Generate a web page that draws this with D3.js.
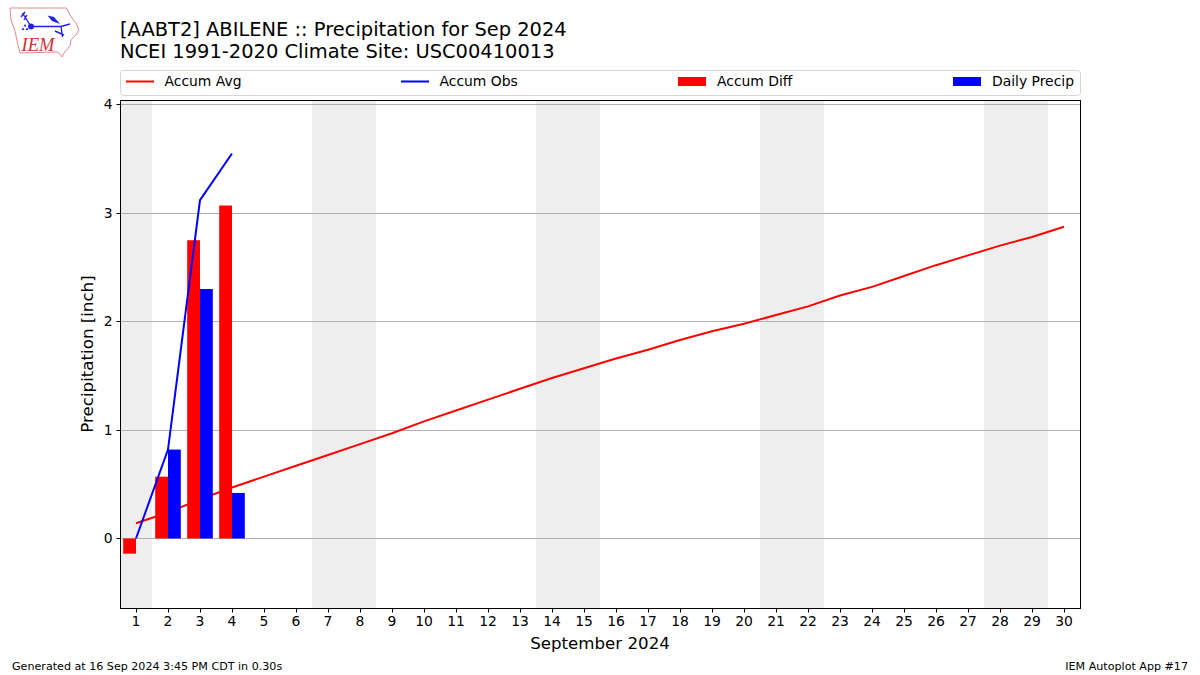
<!DOCTYPE html>
<html>
<head>
<meta charset="utf-8">
<script src="https://cdn.jsdelivr.net/npm/d3@7"></script>
<style>
html, body { margin: 0; padding: 0; background: #fff; }
svg { display: block; }
text { font-family: "DejaVu Sans", sans-serif; fill: #000; }
</style>
</head>
<body>
<svg id="chart"></svg>
<script>
// values
var days = d3.range(1, 31);
var accumAvg = [0.14, 0.24, 0.36, 0.47, 0.57, 0.67, 0.77, 0.87, 0.97, 1.08,
  1.18, 1.28, 1.38, 1.48, 1.57, 1.66, 1.74, 1.83, 1.91, 1.98,
  2.06, 2.14, 2.24, 2.32, 2.42, 2.52, 2.61, 2.70, 2.78, 2.875];
var obsDays = [1, 2, 3, 4];
var accumObs = [0, 0.82, 3.12, 3.55];
var accumDiff = [-0.14, 0.57, 2.75, 3.07];
var dailyPrecip = [0, 0.82, 2.30, 0.42];
var weekends = [[0.5, 1.5], [6.5, 8.5], [13.5, 15.5], [20.5, 22.5], [27.5, 29.5]];
var yTicks = [0, 1, 2, 3, 4];
var legendLabels = ['Accum Avg', 'Accum Obs', 'Accum Diff', 'Daily Precip'];
var legendColors = ['red', 'blue', 'red', 'blue'];
var legendKinds = ['line', 'line', 'bar', 'bar'];
var legendX = [126, 401, 678, 953];

var full_width = 1200, full_height = 675;
var left = 120, right = 1080, top_ = 100, bottom = 608;

var svg = d3.select("#chart")
    .attr("width", full_width)
    .attr("height", full_height);

var x = d3.scaleLinear().domain([0.5, 30.5]).range([left, right]);
var y = d3.scaleLinear().domain([-0.641, 4.043]).range([bottom, top_]);
var barWidth = 0.4;

// snap horizontal rules onto a pixel row
function snapY(v) { return Math.floor(y(v)) + 0.5; }

// weekend shading
svg.append("g").selectAll("rect")
    .data(weekends)
    .enter().append("rect")
    .attr("x", function(d) { return x(d[0]); })
    .attr("width", function(d) { return x(d[1]) - x(d[0]); })
    .attr("y", top_)
    .attr("height", bottom - top_)
    .attr("fill", "#eeeeee");

// grid
svg.append("g").selectAll("line")
    .data(yTicks)
    .enter().append("line")
    .attr("x1", left)
    .attr("x2", right)
    .attr("y1", snapY)
    .attr("y2", snapY)
    .attr("stroke", "#b0b0b0")
    .attr("stroke-width", 1);

var line = d3.line()
    .x(function(d) { return x(d[0]); })
    .y(function(d) { return y(d[1]); });

svg.append("path")
    .datum(d3.zip(days, accumAvg))
    .attr("d", line)
    .attr("fill", "none")
    .attr("stroke", "red")
    .attr("stroke-width", 2);

// bars
svg.append("g").selectAll("rect")
    .data(d3.zip(obsDays, accumDiff))
    .enter().append("rect")
    .attr("x", function(d) { return x(d[0] - barWidth); })
    .attr("width", x(barWidth) - x(0))
    .attr("y", function(d) { return y(Math.max(0, d[1])); })
    .attr("height", function(d) { return Math.abs(y(d[1]) - y(0)); })
    .attr("fill", "red");

svg.append("g").selectAll("rect")
    .data(d3.zip(obsDays, dailyPrecip))
    .enter().append("rect")
    .attr("x", function(d) { return x(d[0]); })
    .attr("width", x(barWidth) - x(0))
    .attr("y", function(d) { return y(d[1]); })
    .attr("height", function(d) { return y(0) - y(d[1]); })
    .attr("fill", "blue");

svg.append("path")
    .datum(d3.zip(obsDays, accumObs))
    .attr("d", line)
    .attr("fill", "none")
    .attr("stroke", "blue")
    .attr("stroke-width", 2);

// frame
svg.append("rect")
    .attr("x", left + 0.5)
    .attr("y", top_ + 0.5)
    .attr("width", right - left)
    .attr("height", bottom - top_)
    .attr("fill", "none")
    .attr("stroke", "#000")
    .attr("stroke-width", 1);

// axes
var xAxis = svg.append("g")
    .attr("transform", "translate(0," + (bottom + 0.5) + ")")
    .call(d3.axisBottom(x).tickValues(days).tickFormat(d3.format("d")).tickSize(4).tickPadding(4));
var yAxis = svg.append("g")
    .attr("transform", "translate(" + (left + 0.5) + ",0)")
    .call(d3.axisLeft(y).tickValues(yTicks).tickFormat(d3.format("d")).tickSize(4).tickPadding(4));
yAxis.selectAll(".tick").attr("transform", function(d) { return "translate(0," + snapY(d) + ")"; });
xAxis.selectAll("text").attr("x", -0.5);
yAxis.selectAll("text").attr("y", 0.5);
[xAxis, yAxis].forEach(function(a) {
  a.select(".domain").remove();
  a.selectAll("text").style("font-size", "13.9px").style("font-family", '"DejaVu Sans", sans-serif');
  a.selectAll("line").attr("stroke", "#000");
});

svg.append("text")
    .attr("x", 600).attr("y", 649)
    .attr("text-anchor", "middle")
    .style("font-size", "16.67px")
    .text("September 2024");

svg.append("text")
    .attr("transform", "translate(92.5," + 354 + ") rotate(-90)")
    .attr("text-anchor", "middle")
    .style("font-size", "16.67px")
    .text("Precipitation [inch]");

// titles
svg.append("text").attr("x", 120).attr("y", 36).style("font-size", "19.45px")
    .text("[AABT2] ABILENE :: Precipitation for Sep 2024");
svg.append("text").attr("x", 120).attr("y", 58).style("font-size", "19.45px")
    .text("NCEI 1991-2020 Climate Site: USC00410013");

// legend
svg.append("rect")
    .attr("x", 120.5).attr("y", 70.5)
    .attr("width", 960).attr("height", 25)
    .attr("rx", 3)
    .attr("fill", "#fff")
    .attr("stroke", "#d5d5d5");

var legend = svg.append("g").selectAll("g")
    .data(legendLabels)
    .enter().append("g")
    .attr("transform", function(d, i) { return "translate(" + legendX[i] + ",81.5)"; });

legend.filter(function(d, i) { return legendKinds[i] == 'line'; })
    .append("line")
    .attr("x2", 28)
    .attr("stroke", function(d) { return legendColors[legendLabels.indexOf(d)]; })
    .attr("stroke-width", 2);

legend.filter(function(d, i) { return legendKinds[i] == 'bar'; })
    .append("rect")
    .attr("y", -4.5)
    .attr("width", 28)
    .attr("height", 9)
    .attr("fill", function(d) { return legendColors[legendLabels.indexOf(d)]; });

legend.append("text")
    .attr("x", function(d, i) { return legendKinds[i] == 'line' ? 38.5 : 39; })
    .attr("y", 4.5)
    .style("font-size", "13.9px")
    .text(function(d) { return d; });

// footer
svg.append("text").attr("x", 12).attr("y", 670).style("font-size", "11.12px")
    .text("Generated at 16 Sep 2024 3:45 PM CDT in 0.30s");
svg.append("text").attr("x", 1188).attr("y", 670).attr("text-anchor", "end").style("font-size", "11.12px")
    .text("IEM Autoplot App #17");

// logo
var logo = svg.append("g");
logo.append("path")
    .attr("d", "M10,8 L66.5,8 L70,15 L76.5,24 L79,30 L75,36 L71,40 L70,46 L64,53 L62,57 L58,52 L20,53 L18,45 L15,31 L11,20 Z")
    .attr("fill", "none")
    .attr("stroke", "#e08a8a")
    .attr("stroke-width", 1);
logo.append("path")
    .attr("d", "M31,26.5 L61,26.5 L70,24 M61,26.5 L62.5,37 M31,26.5 L22.5,13 M21,17 L25,12 M24,20 L27,15 M55,31 L64,35")
    .attr("fill", "none")
    .attr("stroke", "#2222dd")
    .attr("stroke-width", 1.4);
logo.append("path")
    .attr("d", "M47.5,15.5 L54,17 L60,24 L52,21 Z")
    .attr("fill", "#2222dd");
logo.append("circle").attr("cx", 31).attr("cy", 26.5).attr("r", 3).attr("fill", "#2222dd");
logo.append("path")
    .attr("d", "M25,24 L26.5,26.5 L23.5,26.5 Z M23,27.5 L24.5,30 L21.5,30 Z M27,27.5 L28.5,30 L25.5,30 Z")
    .attr("fill", "#2222dd");
logo.append("text")
    .attr("x", 21.5).attr("y", 51)
    .style("font-family", '"Liberation Serif", serif')
    .style("font-style", "italic")
    .style("font-size", "18.5px")
    .style("fill", "#cc3333")
    .text("IEM");
</script>
</body>
</html>
